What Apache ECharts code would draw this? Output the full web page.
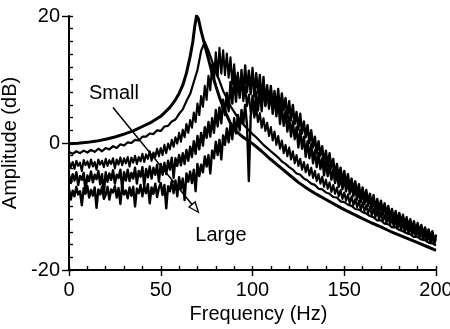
<!DOCTYPE html>
<html>
<head>
<meta charset="utf-8">
<script src="https://cdn.jsdelivr.net/npm/echarts@6/dist/echarts.min.js"></script>
<style>
  html, body { margin: 0; padding: 0; background: #fff; }
  #chart { width: 450px; height: 329px; }
</style>
</head>
<body>
<div id="chart"></div>
<script>
// Frequency responses (dB) from the smallest to the largest excitation level.

// Smallest level: smooth curve, sampled more densely around the resonance.
const smallFreq = [0, 5, 10, 15, 20, 25, 30, 35, 40, 45, 50, 55, 58, 60, 62, 64, 66, 67.5, 68.5, 69.5,
  70.5, 72, 74, 76, 78, 80, 82, 84, 86, 88, 90, 95, 100, 105, 110, 115, 120, 125, 130, 135, 140,
  145, 150, 155, 160, 165, 170, 175, 180, 185, 190, 195, 200];
const smallAmp = [-0.1, -0.05, 0.1, 0.3, 0.6, 0.95, 1.4, 1.9, 2.6, 3.3, 4.2, 5.6, 6.8, 7.8, 9.1, 11.0, 13.6, 16.0, 18.3, 20.0,
  19.6, 17.6, 15.4, 13.2, 11.0, 9.0, 7.2, 5.6, 4.4, 3.1, 2.1, 0.9, -0.1, -1.3, -2.6, -3.8, -5.0, -6.2, -7.2, -8.1, -8.9,
  -9.7, -10.5, -11.2, -11.9, -12.6, -13.2, -13.9, -14.5, -15.1, -15.7, -16.3, -16.9];

// Frequency grids of the measured spectra (Hz).
const freqStep2 = Array.from({ length: 101 }, (_, i) => i * 2);
const freqStep1 = Array.from({ length: 201 }, (_, i) => i);

// Level 2 (2 Hz resolution)
const level2Amp = [-1.4, -1.7, -1.3, -1.6, -1.2, -1.5, -1.1, -1.4, -0.9, -1.3,
  -0.8, -1.0, -0.5, -0.8, -0.2, -0.4, 0.1, 0.0, 0.5, 0.4,
  1.0, 1.0, 1.5, 1.4, 2.0, 1.9, 2.6, 2.7, 3.4, 3.7,
  4.6, 5.3, 6.6, 7.7, 9.6, 11.5, 14.5, 15.9, 14.5, 12.9,
  11.2, 9.8, 8.2, 7.1, 5.8, 4.9, 4.0, 3.3, 2.6, 2.0,
  1.4, 0.9, 0.3, -0.3, -0.8, -1.3, -1.8, -2.3, -2.9, -3.3,
  -3.8, -4.2, -4.8, -5.0, -5.6, -5.9, -6.4, -6.6, -7.2, -7.3,
  -7.8, -8.0, -8.5, -8.6, -9.2, -9.3, -9.7, -9.9, -10.4, -10.5,
  -10.9, -11.1, -11.5, -11.7, -12.2, -12.2, -12.7, -12.8, -13.3, -13.3,
  -13.7, -13.9, -14.2, -14.4, -14.8, -14.8, -15.2, -15.3, -15.7, -15.8,
  -16.1];

// Level 3 (1 Hz resolution)
const level3Amp = [-2.9, -3.8, -3.0, -4.1, -2.8, -3.6, -3.1, -4.4, -2.7, -3.5,
  -2.9, -3.9, -2.6, -3.7, -3.0, -4.2, -2.6, -3.4, -2.8, -3.8,
  -2.5, -3.6, -2.7, -3.3, -2.4, -4.0, -2.6, -3.4, -2.3, -3.5,
  -2.4, -3.2, -2.2, -3.7, -2.3, -3.1, -2.0, -3.3, -2.2, -2.9,
  -1.7, -3.0, -1.8, -2.5, -1.3, -2.8, -1.5, -2.2, -0.9, -2.1,
  -0.8, -1.9, -0.3, -1.6, -0.1, -1.0, 0.5, -0.6, 0.9, -0.1,
  1.6, 0.2, 2.1, 0.9, 3.0, 1.6, 3.6, 2.4, 4.8, 3.3,
  6.2, 4.4, 7.4, 5.7, 9.0, 6.8, 10.6, 8.3, 12.4, 9.6,
  14.3, 10.4, 15.0, 10.9, 14.6, 10.7, 14.1, 10.3, 13.5, 9.3,
  12.4, 8.6, 11.1, 7.5, 10.0, 6.6, 8.8, 5.8, 7.6, 4.9,
  6.4, 4.0, 5.5, 3.3, 4.7, 2.4, 3.9, 1.9, 3.2, 1.1,
  2.5, 0.4, 1.8, -0.3, 1.1, -0.9, 0.4, -1.6, -0.3, -2.1,
  -0.7, -2.6, -1.3, -3.2, -1.9, -3.6, -2.5, -4.2, -3.0, -4.6,
  -3.4, -5.1, -3.9, -5.5, -4.4, -6.0, -4.9, -6.4, -5.3, -6.9,
  -5.8, -7.2, -6.2, -7.7, -6.6, -8.0, -7.0, -8.4, -7.4, -8.8,
  -7.8, -9.1, -8.1, -9.5, -8.4, -9.8, -8.8, -10.1, -9.1, -10.5,
  -9.4, -10.8, -9.8, -11.1, -10.1, -11.4, -10.4, -11.7, -10.7, -12.1,
  -11.0, -12.3, -11.3, -12.6, -11.6, -12.9, -11.9, -13.2, -12.2, -13.5,
  -12.5, -13.7, -12.8, -14.0, -13.0, -14.3, -13.3, -14.5, -13.6, -14.8,
  -13.8, -15.0, -14.1, -15.3, -14.3, -15.5, -14.6, -15.8, -14.8, -16.0,
  -15.1];

// Level 4 (1 Hz resolution)
const level4Amp = [-5.0, -6.3, -4.9, -5.9, -4.6, -6.6, -5.2, -5.8, -4.7, -7.6,
  -5.1, -6.0, -4.5, -6.2, -5.0, -5.7, -4.4, -6.5, -4.9, -7.9,
  -4.6, -6.1, -4.8, -5.8, -4.3, -6.4, -5.0, -5.5, -4.2, -7.3,
  -4.6, -5.9, -4.2, -6.0, -4.7, -5.6, -3.9, -6.4, -4.4, -5.3,
  -3.8, -6.8, -4.1, -5.4, -3.7, -5.6, -3.9, -5.0, -3.4, -6.1,
  -3.3, -5.0, -3.1, -4.9, -2.8, -4.2, -2.3, -5.5, -2.4, -3.6,
  -1.9, -3.5, -1.6, -3.3, -1.1, -2.8, -0.6, -2.2, 0.3, -1.7,
  1.1, -1.0, 1.6, -0.4, 2.5, 0.8, 3.3, 1.0, 3.9, 1.6,
  5.2, 2.6, 5.6, 3.1, 6.8, 4.4, 7.9, 5.0, 9.6, 6.2,
  10.3, 6.5, 10.6, 7.1, 11.5, 7.6, 12.2, 8.0, 11.4, 7.7,
  11.8, 7.3, 11.0, 7.9, 10.7, 6.4, 10.4, 6.0, 9.1, 5.4,
  8.3, 4.6, 7.6, 4.2, 6.9, 3.0, 5.8, 2.7, 5.0, 1.8,
  4.1, 1.0, 3.4, 0.6, 2.5, -0.7, 2.0, -0.9, 1.0, -2.2,
  0.3, -2.4, -0.2, -3.2, -1.1, -3.8, -1.6, -4.1, -2.4, -5.1,
  -3.0, -5.2, -3.4, -5.8, -4.2, -6.3, -4.6, -6.9, -5.2, -7.3,
  -5.4, -7.6, -5.9, -8.0, -6.5, -8.4, -7.0, -8.9, -7.4, -9.3,
  -7.7, -9.6, -8.1, -9.9, -8.6, -10.4, -8.9, -10.8, -9.4, -11.1,
  -9.6, -11.3, -9.9, -11.7, -10.4, -12.0, -10.8, -12.4, -11.1, -12.8,
  -11.3, -12.9, -11.6, -13.3, -12.0, -13.6, -12.3, -13.9, -12.7, -14.3,
  -12.8, -14.3, -13.1, -14.6, -13.4, -14.9, -13.7, -15.3, -14.1, -15.6,
  -14.6];

// Largest level (1 Hz resolution)
const largeAmp = [-7.2, -8.9, -7.5, -8.4, -6.9, -8.1, -7.6, -9.8, -7.1, -8.0,
  -6.8, -8.6, -7.4, -8.3, -7.0, -10.2, -7.3, -8.1, -6.9, -8.8,
  -8.2, -6.9, -8.9, -7.3, -7.8, -6.8, -8.6, -7.1, -9.6, -6.7,
  -8.1, -7.5, -8.7, -7.0, -8.3, -6.9, -10.0, -7.2, -7.9, -6.6,
  -8.4, -6.8, -7.9, -6.5, -9.5, -7.0, -8.0, -6.4, -8.5, -7.1,
  -6.3, -8.2, -6.6, -10.3, -6.8, -7.6, -6.0, -7.9, -5.9, -8.4,
  -5.4, -7.2, -5.6, -9.0, -4.8, -6.1, -4.5, -6.3, -4.2, -7.6,
  -3.3, -5.2, -3.4, -4.6, -2.1, -3.7, -1.9, -4.8, -1.2, -2.4,
  0.2, -1.9, 0.5, -2.6, 1.2, -0.3, 2.3, 0.1, 2.9, 0.6,
  3.9, 1.5, 4.4, 2.0, 5.2, 3.1, 6.0, 2.8, -6.0, 4.1,
  7.4, 4.3, 8.0, 5.1, 8.6, 5.0, 9.3, 5.8, 8.4, 6.1,
  9.0, 5.6, 8.2, 5.3, 8.5, 4.9, 7.8, 5.2, 7.1, 3.9,
  6.6, 3.6, 6.0, 3.0, 4.9, 2.1, 4.6, 1.5, 3.4, 0.9,
  2.8, 0.0, 2.0, -0.7, 1.0, -1.6, 0.3, -2.0, -0.5, -3.3,
  -1.2, -3.6, -1.6, -4.0, -2.5, -5.1, -3.3, -5.4, -3.9, -6.2,
  -4.4, -6.5, -4.9, -7.0, -5.6, -7.6, -6.0, -8.0, -6.5, -8.6,
  -7.0, -8.9, -7.4, -9.3, -8.0, -9.8, -8.2, -10.3, -8.8, -10.6,
  -9.1, -10.9, -9.5, -11.2, -9.9, -11.6, -10.4, -12.0, -10.7, -12.3,
  -11.0, -12.6, -11.3, -13.0, -11.7, -13.3, -12.0, -13.6, -12.3, -14.0,
  -12.6, -14.2, -12.9, -14.5, -13.3, -14.9, -13.6, -15.2, -13.9, -15.6,
  -14.4];

// Axis tick values
const freqTicks = [0, 50, 100, 150, 200];
const ampTicks = [-20, 0, 20];

// Annotation anchors in data coordinates [Hz, dB]
const smallLabelAt = [24.5, 7.8];
const largeLabelAt = [82.8, -14.6];
const arrowFrom = [24.0, 5.6];
const arrowTo = [70.5, -10.9];

const FONT = '"Liberation Sans", Arial, Helvetica, sans-serif';
const pairs = (xs, ys) => xs.map((x, i) => [x, ys[i]]);

const chart = echarts.init(document.getElementById('chart'), null, { renderer: 'canvas' });

function lineSeries(data, width) {
  return {
    type: 'line', data, xAxisIndex: 0, yAxisIndex: 0,
    showSymbol: false, symbol: 'none', silent: true, smooth: false,
    lineStyle: { color: '#000', width, join: 'round' }
  };
}

const baseText = { color: '#000', fontFamily: FONT, fontSize: 20 };
const tickStyle = { color: '#000', width: 1.4 };

chart.setOption({
  animation: false,
  backgroundColor: '#fff',
  grid: { left: 69, right: 14, top: 16, bottom: 59, containLabel: false, outerBoundsMode: 'none' },
  xAxis: [
    {
      // labelled axis: ticks inside every 10 Hz
      type: 'value', min: freqTicks[0], max: freqTicks[freqTicks.length - 1], interval: 50,
      position: 'bottom',
      name: 'Frequency (Hz)', nameLocation: 'middle', nameGap: 34,
      nameTextStyle: Object.assign({}, baseText, { padding: [0, 0, 0, 12] }),
      axisLine: { onZero: false, lineStyle: { color: '#000', width: 2 } },
      axisTick: { inside: true, length: 4, lineStyle: tickStyle },
      minorTick: { show: true, splitNumber: 5, length: 4, lineStyle: tickStyle },
      axisLabel: Object.assign({}, baseText, { margin: 10 }),
      splitLine: { show: false }
    },
    {
      // outward major ticks
      type: 'value', min: freqTicks[0], max: freqTicks[freqTicks.length - 1], interval: 50,
      position: 'bottom', offset: 0, gridIndex: 0,
      axisLine: { show: false, onZero: false },
      axisTick: { show: true, inside: false, length: 6, lineStyle: tickStyle },
      axisLabel: { show: false },
      splitLine: { show: false }
    }
  ],
  yAxis: [
    {
      type: 'value', min: ampTicks[0], max: ampTicks[ampTicks.length - 1], interval: 20,
      position: 'left',
      name: 'Amplitude (dB)', nameLocation: 'middle', nameGap: 37, nameRotate: 90,
      nameTextStyle: baseText,
      axisLine: { onZero: false, lineStyle: { color: '#000', width: 2 } },
      axisTick: { inside: false, length: 7, lineStyle: tickStyle },
      axisLabel: Object.assign({}, baseText, { margin: 9 }),
      splitLine: { show: false }
    },
    {
      // inward ticks every 2 dB
      type: 'value', min: ampTicks[0], max: ampTicks[ampTicks.length - 1], interval: 2,
      position: 'left', offset: 0, gridIndex: 0,
      axisLine: { show: false, onZero: false },
      axisTick: { show: true, inside: true, length: 4, lineStyle: tickStyle },
      axisLabel: { show: false },
      splitLine: { show: false }
    }
  ],
  series: [
    lineSeries(pairs(freqStep1, largeAmp), 2.4),
    lineSeries(pairs(freqStep1, level4Amp), 2.4),
    lineSeries(pairs(freqStep1, level3Amp), 2.1),
    lineSeries(pairs(freqStep2, level2Amp), 2.2),
    lineSeries(pairs(smallFreq, smallAmp), 3)
  ]
});

// Labels and the arrow running from "Small" towards "Large".
function drawAnnotations() {
  const toPx = p => chart.convertToPixel({ xAxisIndex: 0, yAxisIndex: 0 }, p);
  const s = toPx(smallLabelAt), l = toPx(largeLabelAt);
  const a = toPx(arrowFrom), b = toPx(arrowTo);
  const dx = b[0] - a[0], dy = b[1] - a[1];
  const len = Math.hypot(dx, dy), ux = dx / len, uy = dy / len;
  const headLen = 10, headHalf = 4;
  const base = [b[0] - ux * headLen, b[1] - uy * headLen];
  const px = -uy, py = ux;
  chart.setOption({
    graphic: [
      { type: 'text', x: s[0], y: s[1], silent: true,
        style: { text: 'Small', fill: '#000', font: '20px ' + FONT, align: 'center', verticalAlign: 'middle' } },
      { type: 'text', x: l[0], y: l[1], silent: true,
        style: { text: 'Large', fill: '#000', font: '20px ' + FONT, align: 'center', verticalAlign: 'middle' } },
      { type: 'line', silent: true, z: 10,
        shape: { x1: a[0], y1: a[1], x2: base[0], y2: base[1] },
        style: { stroke: '#000', lineWidth: 1.5 } },
      { type: 'polygon', silent: true, z: 11,
        shape: { points: [b, [base[0] + px * headHalf, base[1] + py * headHalf], [base[0] - px * headHalf, base[1] - py * headHalf]] },
        style: { fill: '#fff', stroke: '#000', lineWidth: 1.3 } }
    ]
  });
}
drawAnnotations();
</script>
</body>
</html>
